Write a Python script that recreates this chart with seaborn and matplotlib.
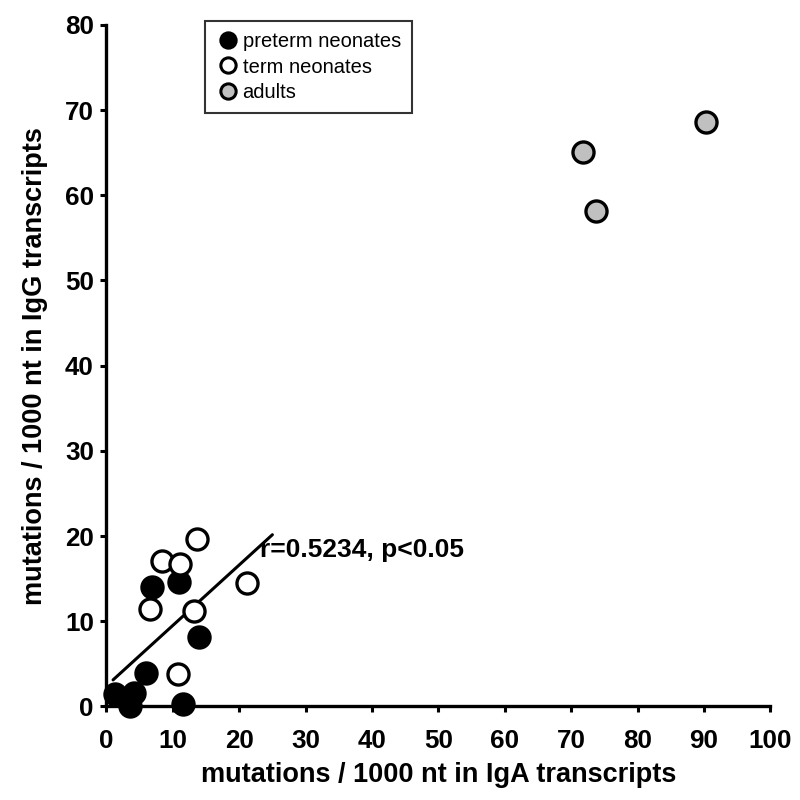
import numpy as np
import pandas as pd
import seaborn as sns
import matplotlib.pyplot as plt
from matplotlib.lines import Line2D

# mutations / 1000 nt
preterm_iga = [6.8, 10.9, 13.9, 6.0, 1.3, 4.1, 3.6, 11.5]
preterm_igg = [14.0, 14.6, 8.1, 3.9, 1.4, 1.6, 0.0, 0.3]
term_iga = [13.6, 8.3, 11.1, 6.6, 13.2, 21.1, 10.8]
term_igg = [19.7, 17.1, 16.7, 11.4, 11.2, 14.5, 3.8]
adult_iga = [90.3, 71.8, 73.8]
adult_igg = [68.6, 65.1, 58.2]

groups = ['preterm neonates', 'term neonates', 'adults']
face_colors = ['black', 'white', '#c0c0c0']

# regression over neonates (as drawn in the figure)
fit_slope = 0.71
fit_intercept = 2.4
fit_range = [1.0, 25.0]
fit_text = 'r=0.5234, p<0.05'

df = pd.DataFrame({
    'IgA': preterm_iga + term_iga + adult_iga,
    'IgG': preterm_igg + term_igg + adult_igg,
    'group': [groups[0]] * len(preterm_iga) + [groups[1]] * len(term_iga)
             + [groups[2]] * len(adult_iga),
})

sns.set_style('white')
plt.rcParams.update({
    'font.family': ['Liberation Sans', 'DejaVu Sans'],
    'text.color': 'black',
    'axes.labelcolor': 'black',
    'xtick.color': 'black',
    'ytick.color': 'black',
})

fig = plt.figure(figsize=(8, 8), dpi=100)
ax = fig.add_axes([0.133, 0.117, 0.83, 0.852])

for grp, fc in zip(groups, face_colors):
    sub = df[df['group'] == grp]
    sns.scatterplot(data=sub, x='IgA', y='IgG', ax=ax, s=230, color=fc,
                    edgecolor='black', linewidth=2.4, clip_on=False,
                    legend=False, zorder=3)

xs = np.array(fit_range)
ax.plot(xs, fit_slope * xs + fit_intercept, color='black', lw=2.2, zorder=2)
ax.text(23.1, 18.3, fit_text, fontsize=19, fontweight='bold', va='center')

ax.set_xlim(0, 100)
ax.set_ylim(0, 80)
ax.set_xticks(range(0, 101, 10))
ax.set_yticks(range(0, 81, 10))
for sp in ['top', 'right']:
    ax.spines[sp].set_visible(False)
for sp in ['left', 'bottom']:
    ax.spines[sp].set_linewidth(2.4)
    ax.spines[sp].set_color('black')
ax.tick_params(direction='out', length=4, width=2.2, color='black',
               labelsize=18.7, left=True, bottom=True)
ax.tick_params(axis='x', pad=12)
ax.tick_params(axis='y', pad=5)
for lab in ax.get_xticklabels() + ax.get_yticklabels():
    lab.set_fontweight('bold')

ax.set_xlabel('mutations / 1000 nt in IgA transcripts', fontsize=19.5,
              fontweight='bold', labelpad=7)
ax.set_ylabel('mutations / 1000 nt in IgG transcripts', fontsize=19.5,
              fontweight='bold', labelpad=12)

handles = [Line2D([0], [0], marker='o', ls='', markersize=11, markerfacecolor=fc,
                  markeredgecolor='black', markeredgewidth=2.2) for fc in face_colors]
leg = ax.legend(handles, groups, loc='upper left', bbox_to_anchor=(0.149, 1.005),
                frameon=True, fancybox=False, handletextpad=0.1,
                handlelength=1.2, borderpad=0.55, labelspacing=0.3,
                borderaxespad=0, prop={'size': 14.5})
leg.get_frame().set_edgecolor('black')
leg.get_frame().set_linewidth(1.5)

fig.savefig('out.png', dpi=100, facecolor='white')
